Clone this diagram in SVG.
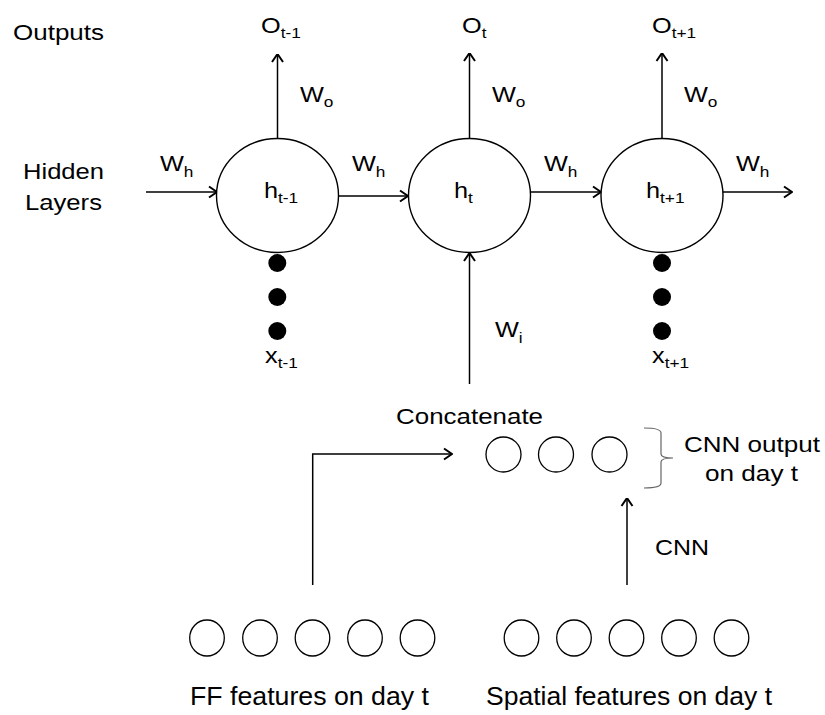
<svg xmlns="http://www.w3.org/2000/svg" width="825" height="715" viewBox="0 0 825 715">
<style>
text{font-family:"Liberation Sans",Arial,sans-serif;fill:#000}
.lbl{font-size:22px}
.big{font-size:26px}
.sub{font-size:15px}
.node{fill:#fff;stroke:#000;stroke-width:1.4}
.small{fill:#fff;stroke:#000;stroke-width:1.3}
.dot{fill:#000}
.conn{fill:none;stroke:#000;stroke-width:1.5}
.brace{fill:none;stroke:#666;stroke-width:1.2}
</style>
<defs>
<marker id="arr" viewBox="0 0 10 14" refX="9.5" refY="7" markerWidth="10" markerHeight="14" markerUnits="userSpaceOnUse" orient="auto">
<path d="M1.5,1.5 L9.5,7 L1.5,12.5" fill="none" stroke="#000" stroke-width="2"/>
</marker>
</defs>
<rect width="825" height="715" fill="#fff"/>
<g id="row-labels">
<text class="lbl" x="13" y="40" textLength="91" lengthAdjust="spacingAndGlyphs">Outputs</text>
<text class="lbl" x="23" y="179" textLength="81" lengthAdjust="spacingAndGlyphs">Hidden</text>
<text class="lbl" x="25" y="210" textLength="77" lengthAdjust="spacingAndGlyphs">Layers</text>
</g>
<g id="connectors">
<line class="conn" x1="146" y1="192" x2="217" y2="192" marker-end="url(#arr)"/>
<line class="conn" x1="339" y1="196" x2="408" y2="196" marker-end="url(#arr)"/>
<line class="conn" x1="531" y1="192" x2="601" y2="192" marker-end="url(#arr)"/>
<line class="conn" x1="723" y1="192" x2="792" y2="192" marker-end="url(#arr)"/>
<line class="conn" x1="277.5" y1="138.5" x2="277.5" y2="54" marker-end="url(#arr)"/>
<line class="conn" x1="469.5" y1="138.5" x2="469.5" y2="53" marker-end="url(#arr)"/>
<line class="conn" x1="662" y1="138.5" x2="662" y2="53" marker-end="url(#arr)"/>
<line class="conn" x1="469.5" y1="384" x2="469.5" y2="253" marker-end="url(#arr)"/>
<polyline class="conn" points="312.7,585 312.7,454 452,454" marker-end="url(#arr)"/>
<line class="conn" x1="627" y1="585" x2="627" y2="498" marker-end="url(#arr)"/>
</g>
<g id="out-labels">
<text class="lbl" transform="translate(261,33) scale(1.15,1)">O<tspan class="sub" dy="5">t-1</tspan></text>
<text class="lbl" transform="translate(462,33) scale(1.15,1)">O<tspan class="sub" dy="5">t</tspan></text>
<text class="lbl" transform="translate(652,33) scale(1.15,1)">O<tspan class="sub" dy="5">t+1</tspan></text>
<text class="lbl" transform="translate(300,102) scale(1.15,1)">W<tspan class="sub" dy="5">o</tspan></text>
<text class="lbl" transform="translate(492,102) scale(1.15,1)">W<tspan class="sub" dy="5">o</tspan></text>
<text class="lbl" transform="translate(684,102) scale(1.15,1)">W<tspan class="sub" dy="5">o</tspan></text>
<text class="lbl" transform="translate(160,171) scale(1.15,1)">W<tspan class="sub" dy="6">h</tspan></text>
<text class="lbl" transform="translate(352,171) scale(1.15,1)">W<tspan class="sub" dy="6">h</tspan></text>
<text class="lbl" transform="translate(544,171) scale(1.15,1)">W<tspan class="sub" dy="6">h</tspan></text>
<text class="lbl" transform="translate(736,171) scale(1.15,1)">W<tspan class="sub" dy="6">h</tspan></text>
<text class="lbl" transform="translate(495,337) scale(1.15,1)">W<tspan class="sub" dy="6">i</tspan></text>
</g>
<g id="h-t-1">
<ellipse class="node" cx="277.5" cy="195.5" rx="61" ry="57"/>
<text class="lbl" transform="translate(264,198) scale(1.15,1)">h<tspan class="sub" dy="5">t-1</tspan></text>
</g>
<g id="h-t">
<ellipse class="node" cx="469.5" cy="195.5" rx="61" ry="57"/>
<text class="lbl" transform="translate(454,198) scale(1.15,1)">h<tspan class="sub" dy="5">t</tspan></text>
</g>
<g id="h-t1">
<ellipse class="node" cx="662" cy="195.5" rx="61" ry="57"/>
<text class="lbl" transform="translate(646,198) scale(1.15,1)">h<tspan class="sub" dy="5">t+1</tspan></text>
</g>
<g id="x-t-1">
<circle class="dot" cx="277.3" cy="263" r="9"/>
<circle class="dot" cx="277.3" cy="297" r="9"/>
<circle class="dot" cx="277.3" cy="331" r="9"/>
<text class="lbl" transform="translate(265,363) scale(1.15,1)">x<tspan class="sub" dy="5">t-1</tspan></text>
</g>
<g id="x-t1">
<circle class="dot" cx="662" cy="263" r="9"/>
<circle class="dot" cx="662" cy="297" r="9"/>
<circle class="dot" cx="662" cy="331" r="9"/>
<text class="lbl" transform="translate(652,363) scale(1.15,1)">x<tspan class="sub" dy="5">t+1</tspan></text>
</g>
<g id="concat">
<text class="lbl" x="396" y="424" textLength="147" lengthAdjust="spacingAndGlyphs">Concatenate</text>
<circle class="small" cx="503.5" cy="454.5" r="17.5"/>
<circle class="small" cx="556" cy="454.5" r="17.5"/>
<circle class="small" cx="609.5" cy="454.5" r="17.5"/>
<path class="brace" d="M644,428 Q661,428 661,433 L661,454 Q661,458 673,458 Q661,458 661,462 L661,483 Q661,488 644,488"/>
<text class="lbl" x="684" y="452" textLength="136" lengthAdjust="spacingAndGlyphs">CNN output</text>
<text class="lbl" x="705" y="481" textLength="93" lengthAdjust="spacingAndGlyphs">on day t</text>
</g>
<g id="cnn-label">
<text class="lbl" x="655" y="555" textLength="54" lengthAdjust="spacingAndGlyphs">CNN</text>
</g>
<g id="ff-features">
<ellipse class="small" cx="207" cy="638" rx="17.3" ry="18"/>
<ellipse class="small" cx="260" cy="638" rx="17.3" ry="18"/>
<ellipse class="small" cx="312.5" cy="638" rx="17.3" ry="18"/>
<ellipse class="small" cx="365" cy="638" rx="17.3" ry="18"/>
<ellipse class="small" cx="417.5" cy="638" rx="17.3" ry="18"/>
<text class="big" x="190" y="705" textLength="239" lengthAdjust="spacingAndGlyphs">FF features on day t</text>
</g>
<g id="spatial-features">
<ellipse class="small" cx="521.5" cy="638" rx="17.3" ry="18"/>
<ellipse class="small" cx="574" cy="638" rx="17.3" ry="18"/>
<ellipse class="small" cx="626.5" cy="638" rx="17.3" ry="18"/>
<ellipse class="small" cx="679" cy="638" rx="17.3" ry="18"/>
<ellipse class="small" cx="731.5" cy="638" rx="17.3" ry="18"/>
<text class="big" x="486" y="705" textLength="286" lengthAdjust="spacingAndGlyphs">Spatial features on day t</text>
</g>
</svg>
